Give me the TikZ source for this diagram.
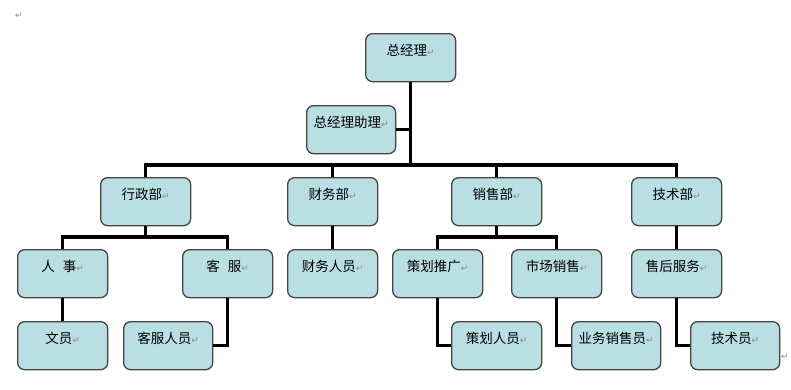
\documentclass[tikz,border=0pt]{standalone}
\usepackage{fontspec}
\newfontfamily\cjk{Noto Sans CJK SC}
\newfontfamily\markfont{DejaVu Sans}
\definecolor{boxfill}{HTML}{B9DFE3}
\definecolor{boxline}{HTML}{454545}
\definecolor{markgray}{HTML}{8A8A8A}
\newcommand{\pmark}{{\markfont\fontsize{9}{9}\selectfont\textcolor{markgray}{↵}}}
\begin{document}
\begin{tikzpicture}[x=1pt,y=-1pt,
  box/.style={draw=boxline, fill=boxfill, line width=1.3pt, rounded corners=7pt,
    anchor=north west, minimum width=90pt, inner xsep=0pt, inner ysep=0pt,
    text height=22pt, text depth=26pt, font=\cjk\fontsize{13.5}{14}\selectfont},
  conn/.style={line width=3.6pt, black, line join=miter},
  pm/.style={inner sep=0pt, font=\markfont\fontsize{9}{9}\selectfont, text=markgray}]
\useasboundingbox (0,0) rectangle (791,389);
\coordinate (barY) at (410,165);
\coordinate (subA) at (145,237);
\coordinate (subB) at (496,237);
% nodes
\node[box] (zjl) at (365,33) {总经理\pmark};
\node[box, minimum width=89pt] (zl) at (306,105) {总经理助理\pmark};
\node[box] (xz) at (100,177) {行政部\pmark};
\node[box] (cw) at (287,177) {财务部\pmark};
\node[box] (xs) at (451,177) {销售部\pmark};
\node[box] (js) at (631,177) {技术部\pmark};
\node[box] (rs) at (17,249) {人\hspace{0.6em}事\pmark};
\node[box] (kf) at (182,249) {客\hspace{0.6em}服\pmark};
\node[box] (cwry) at (287,249) {财务人员\pmark};
\node[box] (chtg) at (392,249) {策划推广\pmark};
\node[box] (scxs) at (511,249) {市场销售\pmark};
\node[box] (shfw) at (631,249) {售后服务\pmark};
\node[box] (wy) at (17,321) {文员\pmark};
\node[box, minimum width=89pt] (kfry) at (123,321) {客服人员\pmark};
\node[box] (chry) at (451,321) {策划人员\pmark};
\node[box, minimum width=89pt] (ywxsy) at (571,321) {业务销售员\pmark};
\node[box, minimum width=89pt] (jsy) at (690,321) {技术员\pmark};
\node[pm] (m1) at (19,16) {↵};
\node[pm] (m2) at (785,357) {↵};
% connectors
\draw[conn] (zjl.south) -- (zjl.south |- barY);
\draw[conn] (zl.east) -- (zl.east -| zjl.south);
\draw[conn] (xz.north) |- (barY) -| (js.north);
\draw[conn] (cw.north) -- (cw.north |- barY);
\draw[conn] (xs.north) -- (xs.north |- barY);
\draw[conn] (xz.south) -- (xz.south |- subA);
\draw[conn] (rs.north) |- (subA) -| (kf.north);
\draw[conn] (rs.south) -- (wy.north);
\draw[conn] (kf.south) |- (kfry.east);
\draw[conn] (cw.south) -- (cwry.north);
\draw[conn] (xs.south) -- (xs.south |- subB);
\draw[conn] (chtg.north) |- (subB) -| (scxs.north);
\draw[conn] (chtg.south) |- (chry.west);
\draw[conn] (scxs.south) |- (ywxsy.west);
\draw[conn] (js.south) -- (shfw.north);
\draw[conn] (shfw.south) |- (jsy.west);
\end{tikzpicture}
\end{document}
